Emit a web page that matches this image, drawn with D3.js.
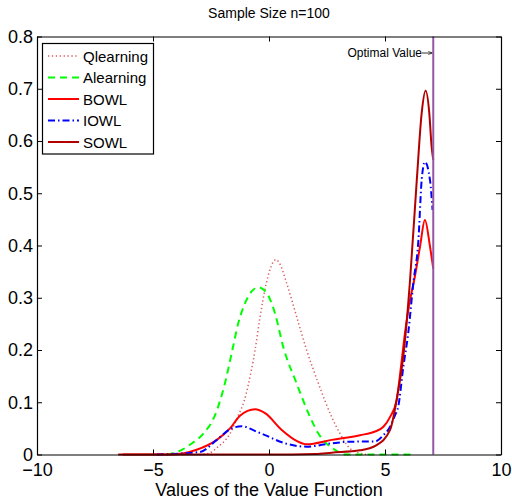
<!DOCTYPE html>
<html>
<head>
<meta charset="utf-8">
<script src="https://cdn.jsdelivr.net/npm/d3@7"></script>
<style>
    body { margin: 0; background: #fff; }
    svg { font-family: "Liberation Sans", Arial, sans-serif; }
</style>
</head>
<body>
<svg id="chart" width="512" height="500"></svg>
<script>
// values, [value, density]
const qlearning = [[-3.0, 0], [-2.62, 0.002], [-2.19, 0.015], [-1.68, 0.04], [-1.35, 0.072], [-1.06, 0.104],
    [-0.9, 0.132], [-0.6, 0.2], [-0.39, 0.262], [-0.13, 0.325], [0.05, 0.355], [0.3, 0.373], [0.5, 0.362],
    [0.76, 0.328], [1.19, 0.264], [1.62, 0.2], [2.13, 0.136], [2.7, 0.072], [3.06, 0.04], [3.56, 0.009], [4.2, 0]]
const alearning = [[-4.4, 0], [-3.8, 0.008], [-3.3, 0.022], [-2.83, 0.04], [-2.33, 0.075], [-1.9, 0.136],
    [-1.58, 0.2], [-1.32, 0.252], [-1.03, 0.29], [-0.75, 0.312], [-0.46, 0.32], [-0.1, 0.309], [0.26, 0.27],
    [0.62, 0.205], [1.19, 0.136], [1.77, 0.072], [2.13, 0.04], [2.84, 0.009], [3.3, 0], [6.3, 0]]
const bowl = [[-6.3, 0], [-4.2, 0], [-3.12, 0.009], [-2.25, 0.028], [-1.68, 0.05], [-1.25, 0.074], [-0.6, 0.0865],
    [-0.17, 0.079], [0.55, 0.047], [1.19, 0.026], [1.62, 0.0195], [2.7, 0.028], [3.92, 0.037], [4.57, 0.044],
    [4.93, 0.053], [5.22, 0.072], [5.5, 0.104], [5.69, 0.168], [5.86, 0.232], [6.08, 0.296], [6.26, 0.334],
    [6.51, 0.398], [6.72, 0.449], [6.94, 0.398], [7.08, 0.356]]
const iowl = [[-4.84, 0], [-2.97, 0.005], [-2.25, 0.028], [-1.61, 0.05], [-1.18, 0.054], [-0.53, 0.0437],
    [-0.17, 0.037], [0.69, 0.0214], [1.62, 0.015], [2.7, 0.0214], [3.49, 0.0245], [4.57, 0.025], [4.93, 0.037],
    [5.22, 0.053], [5.43, 0.075], [5.57, 0.0915], [5.79, 0.168], [6.0, 0.232], [6.22, 0.328], [6.44, 0.41],
    [6.58, 0.525], [6.72, 0.56], [6.94, 0.525], [7.05, 0.468]]
const sowl = [[-6.5, 0], [0, 0], [2.0, 0.001], [2.7, 0.0035], [3.92, 0.008], [4.6, 0.017], [5.22, 0.047],
    [5.5, 0.104], [5.82, 0.2], [6.08, 0.334], [6.37, 0.525], [6.58, 0.653], [6.75, 0.696], [6.91, 0.653],
    [7.01, 0.589], [7.08, 0.564]]

const optimalValue = 7.08
const xTicks = [-10, -5, 0, 5, 10]
const yTicks = [0, 0.1, 0.2, 0.3, 0.4, 0.5, 0.6, 0.7, 0.8]

const series = [
    { name: 'Qlearning', data: qlearning, color: '#dc5a5a', width: 1.5, dash: '1.3,2.6' },
    { name: 'Alearning', data: alearning, color: '#00ff00', width: 2, dash: '7,5' },
    { name: 'BOWL', data: bowl, color: '#ff0000', width: 2, dash: null },
    { name: 'IOWL', data: iowl, color: '#0000ff', width: 2, dash: '7,3,1.5,3' },
    { name: 'SOWL', data: sowl, color: '#b20000', width: 2, dash: null },
]

let svg = d3.select('#chart')

let x = d3.scaleLinear().domain([-10, 10]).range([37, 501])
let y = d3.scaleLinear().domain([0, 0.8]).range([454.5, 36.5])

// curves first, frame on top
let line = d3.line()
    .x(d => x(d[0]))
    .y(d => y(d[1]))
    .curve(d3.curveMonotoneX)

svg.append('g')
    .selectAll('path')
    .data(series)
    .join('path')
    .attr('d', d => line(d.data))
    .attr('fill', 'none')
    .attr('stroke', d => d.color)
    .attr('stroke-width', d => d.width)
    .attr('stroke-dasharray', d => d.dash)
    .attr('stroke-linejoin', 'round')

// optimal value marker
svg.append('line')
    .attr('x1', x(optimalValue)).attr('x2', x(optimalValue))
    .attr('y1', y(0.8)).attr('y2', y(0))
    .attr('stroke', '#9457a6')
    .attr('stroke-width', 2)

// box with inward ticks on all four sides
let tickLen = 5
let axisBottom = d3.axisBottom(x).tickValues(xTicks).tickSizeInner(-tickLen).tickSizeOuter(0)
    .tickPadding(9).tickFormat(d => d < 0 ? '\u2212' + Math.abs(d) : d)
let axisTop = d3.axisTop(x).tickValues(xTicks).tickSizeInner(-tickLen).tickSizeOuter(0).tickFormat('')
let axisLeft = d3.axisLeft(y).tickValues(yTicks).tickSizeInner(-tickLen).tickSizeOuter(0)
    .tickPadding(4).tickFormat(d => d === 0 ? '0' : d3.format('.1f')(d))
let axisRight = d3.axisRight(y).tickValues(yTicks).tickSizeInner(-tickLen).tickSizeOuter(0).tickFormat('')

svg.append('g').attr('transform', `translate(0,${y(0)})`).call(axisBottom)
svg.append('g').attr('transform', `translate(0,${y(0.8)})`).call(axisTop)
svg.append('g').attr('transform', `translate(${x(-10)},0)`).call(axisLeft)
svg.append('g').attr('transform', `translate(${x(10)},0)`).call(axisRight)

svg.selectAll('.domain').attr('stroke', '#000').attr('stroke-width', 1.2)
svg.selectAll('.tick line').attr('stroke', '#000')
svg.selectAll('.tick text')
    .attr('fill', '#000')
    .style('font-size', '18px')
    .style('font-family', '"Liberation Sans", Arial, sans-serif')

// title and label
svg.append('text')
    .attr('x', 269).attr('y', 18)
    .attr('text-anchor', 'middle')
    .style('font-size', '14px')
    .text('Sample Size n=100')

svg.append('text')
    .attr('x', 269).attr('y', 496)
    .attr('text-anchor', 'middle')
    .style('font-size', '18px')
    .text('Values of the Value Function')

// annotation
svg.append('defs').append('marker')
    .attr('id', 'arrow')
    .attr('viewBox', '0 0 10 10')
    .attr('refX', 10).attr('refY', 5)
    .attr('markerWidth', 5).attr('markerHeight', 5)
    .attr('orient', 'auto')
    .append('path')
    .attr('d', 'M0,1 L10,5 L0,9')
    .attr('fill', 'none')
    .attr('stroke', '#000')
    .attr('stroke-width', 1.5)

svg.append('text')
    .attr('x', 422).attr('y', 57)
    .attr('text-anchor', 'end')
    .style('font-size', '12px')
    .text('Optimal Value')

svg.append('line')
    .attr('x1', 422).attr('x2', x(optimalValue) - 1)
    .attr('y1', 53).attr('y2', 53)
    .attr('stroke', '#000')
    .attr('stroke-width', 0.8)
    .attr('marker-end', 'url(#arrow)')

// legend
let legend = svg.append('g')
legend.append('rect')
    .attr('x', 42.5).attr('y', 43.5)
    .attr('width', 111).attr('height', 110.5)
    .attr('fill', '#fff')
    .attr('stroke', '#000')
    .attr('stroke-width', 1.2)

let rows = legend.selectAll('g.row')
    .data(series)
    .join('g')
    .attr('class', 'row')
    .attr('transform', (d, i) => `translate(0,${56 + i * 21.5})`)

rows.append('line')
    .attr('x1', 48).attr('x2', 79)
    .attr('stroke', d => d.color)
    .attr('stroke-width', d => d.width)
    .attr('stroke-dasharray', d => d.dash)

rows.append('text')
    .attr('x', 83).attr('y', 5.5)
    .style('font-size', '15px')
    .text(d => d.name)
</script>
</body>
</html>
